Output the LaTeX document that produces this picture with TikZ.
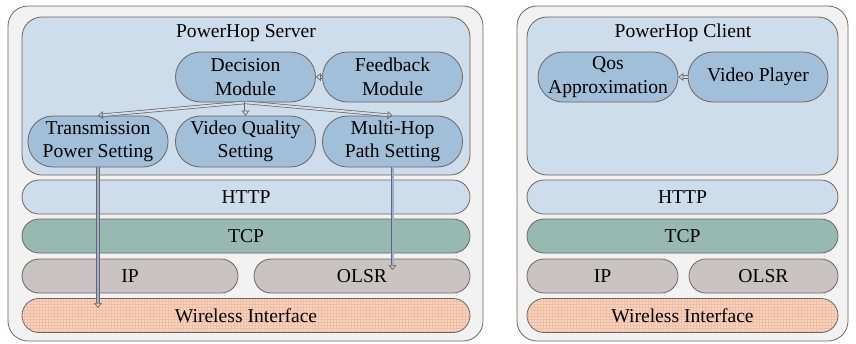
\documentclass[tikz,border=0pt]{standalone}
\usepackage{fontspec}
\setmainfont{Liberation Serif}
\usepackage{tikz}
\usetikzlibrary{arrows.meta,positioning,patterns}
\definecolor{edgegray}{RGB}{112,100,98}
\definecolor{outerfill}{RGB}{242,242,242}
\definecolor{panelblue}{RGB}{205,221,235}
\definecolor{modblue}{RGB}{161,191,217}
\definecolor{tcpgreen}{RGB}{151,185,178}
\definecolor{ipgray}{RGB}{201,195,195}
\definecolor{wifiorange}{RGB}{249,212,190}
\definecolor{wifigrid}{RGB}{240,190,165}
\definecolor{pipeblue}{RGB}{149,179,215}

\begin{document}
\begin{tikzpicture}[
  x=1pt, y=-1pt,
  font=\fontsize{19.6}{23.5}\selectfont,
  box/.style={draw=edgegray, line width=0.8pt, fill=outerfill, rounded corners=20pt, inner sep=0pt},
  panel/.style={draw=edgegray, line width=0.8pt, fill=panelblue, rounded corners=20pt, inner sep=0pt},
  module/.style={draw=edgegray, line width=0.8pt, fill=modblue, rounded corners=25pt, align=center, inner sep=0pt, minimum width=140pt, minimum height=50pt},
  layer/.style={draw=edgegray, line width=0.8pt, rounded corners=17pt, inner sep=0pt, minimum height=34pt},
  wifi/.style={layer, preaction={fill=wifiorange}, pattern=grid, pattern color=wifigrid},
  arrow/.style={draw=edgegray, line width=0.7pt, double=panelblue, double distance=2pt, -{Triangle[open, length=5pt, width=8pt]}},
  pipe/.style={arrow, double=pipeblue}
]
\useasboundingbox (0,0) rectangle (856,343);

% server side
\node[box, minimum width=475pt, minimum height=335pt] (server) at (245.5,173.5) {};
\node[panel, minimum width=448pt, minimum height=158pt] (srvpanel) at (246,96) {};
\node (srvtitle) at (246,33) {PowerHop Server};
\node[module] (decision) at (245.5,77) {Decision\\Module};
\node[module] (feedback) at (392.5,77) {Feedback\\Module};
\node[module, minimum height=51pt] (power) at (98,141.5) {Transmission\\Power Setting};
\node[module, minimum height=51pt] (quality) at (245.5,141.5) {Video Quality\\Setting};
\node[module, minimum height=51pt] (path) at (392.5,141.5) {Multi-Hop\\Path Setting};
\node[layer, fill=panelblue, minimum width=448pt] (srvhttp) at (246,197) {HTTP};
\node[layer, fill=tcpgreen, minimum width=448pt] (srvtcp) at (246,236) {TCP};
\node[layer, fill=ipgray, minimum width=216pt] (srvip) at (130,276) {IP};
\node[layer, fill=ipgray, minimum width=216pt] (srvolsr) at (362,276) {OLSR};
\node[wifi, minimum width=448pt] (srvwifi) at (246,315.5) {Wireless Interface};

\coordinate (powerend) at (98,308);
\coordinate (pathend) at (392.5,270);

\draw[arrow] (feedback.west) -- (decision.east);
\draw[arrow] (decision.south) -- (power.north);
\draw[arrow] (decision.south) -- (quality.north);
\draw[arrow] (decision.south) -- (path.north);
\draw[pipe] (power.south) -- (powerend);
\draw[pipe] (path.south) -- (pathend);

% client side
\node[box, minimum width=331pt, minimum height=335pt] (client) at (682.5,173.5) {};
\node[panel, minimum width=311pt, minimum height=158pt] (clipanel) at (682.5,96) {};
\node (clititle) at (683,33) {PowerHop Client};
\node[module] (qos) at (608,77) {Qos\\Approximation};
\node[module] (player) at (758,77) {Video Player};
\node[layer, fill=panelblue, minimum width=311pt] (clihttp) at (682.5,197) {HTTP};
\node[layer, fill=tcpgreen, minimum width=311pt] (clitcp) at (682.5,236) {TCP};
\node[layer, fill=ipgray, minimum width=151pt] (cliip) at (602.5,276) {IP};
\node[layer, fill=ipgray, minimum width=149pt] (cliolsr) at (763.5,276) {OLSR};
\node[wifi, minimum width=311pt] (cliwifi) at (682.5,315.5) {Wireless Interface};

\draw[arrow] (player.west) -- (qos.east);
\end{tikzpicture}
\end{document}
